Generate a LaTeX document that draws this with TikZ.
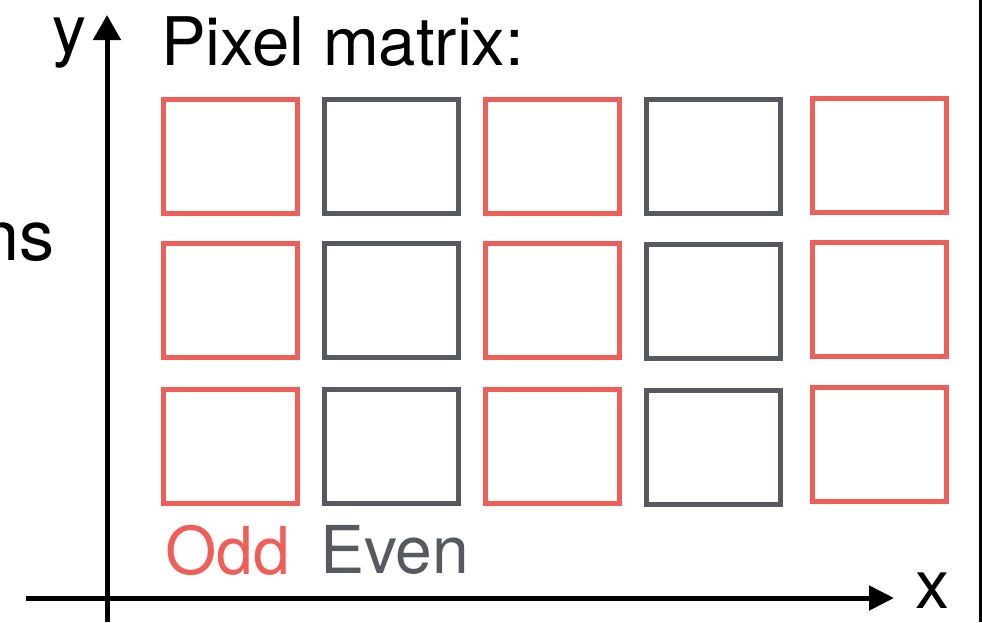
\documentclass[tikz,border=0pt]{standalone}
\usepackage{fontspec}
\setmainfont{TeX Gyre Heros}
\usetikzlibrary{arrows.meta}
\definecolor{oddred}{RGB}{238,95,90}
\definecolor{evengray}{RGB}{85,90,96}
\begin{document}
\begin{tikzpicture}[x=1pt,y=-1pt,
  pix/.style={draw,line width=5pt,inner sep=0pt,minimum width=134pt,minimum height=114pt},
  oddpix/.style={pix,draw=oddred},
  evenpix/.style={pix,draw=evengray},
  axis/.style={line width=5pt,black},
  bigtext/.style={inner sep=0pt,font=\fontsize{66}{80}\selectfont},
]
\useasboundingbox (0,0) rectangle (982,622);
\clip (0,0) rectangle (982,622);
% pixel matrix
\node[oddpix]  (p11) at (230.5,156.5) {};
\node[evenpix] (p12) at (391,156.5) {};
\node[oddpix]  (p13) at (552.5,156.5) {};
\node[evenpix] (p14) at (713.5,156.5) {};
\node[oddpix]  (p15) at (879.5,155) {};
\node[oddpix]  (p21) at (230.5,300) {};
\node[evenpix] (p22) at (391,300.5) {};
\node[oddpix]  (p23) at (552.5,300.5) {};
\node[evenpix] (p24) at (713.5,301.5) {};
\node[oddpix]  (p25) at (879.5,299.5) {};
\node[oddpix]  (p31) at (230.5,446) {};
\node[evenpix] (p32) at (391,446.5) {};
\node[oddpix]  (p33) at (552.5,446.5) {};
\node[evenpix] (p34) at (713.5,447) {};
\node[oddpix]  (p35) at (879.5,444.5) {};
% texts
\node[bigtext,anchor=base west,font=\fontsize{67}{80}\selectfont] (title) at (161,65) {Pixel matrix:};
\node[bigtext,anchor=base west,text=oddred] (odd) at (165,574) {Odd};
\node[bigtext,anchor=base west,text=evengray] (even) at (320,573) {Even};
\node[bigtext,anchor=base west,font=\fontsize{68}{80}\selectfont] (ylab) at (52,53) {y};
\node[bigtext,anchor=base west,font=\fontsize{68}{80}\selectfont] (xlab) at (915,608) {x};
\node[bigtext,anchor=base east,font=\fontsize{70}{84}\selectfont] (nslab) at (55,260) {ns};
% axes
\coordinate (yb) at (107,622);
\coordinate (yt) at (107,15);
\coordinate (xl) at (26,598);
\coordinate (xr) at (894,598);
\draw[axis,-{Triangle[length=25pt,width=27pt]}] (yb) -- (yt);
\draw[axis,-{Triangle[length=25pt,width=24pt]}] (xl) -- (xr);
% right border
\draw[line width=3pt] (980.5,0) -- (980.5,622);
\end{tikzpicture}
\end{document}
